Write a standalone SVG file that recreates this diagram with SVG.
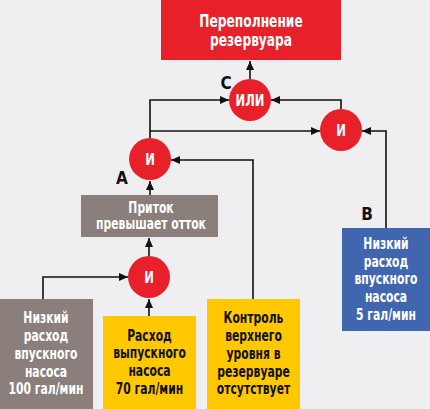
<svg xmlns="http://www.w3.org/2000/svg" width="430" height="409" viewBox="0 0 430 409">
<defs>
<style>
.t{font-family:"Liberation Sans Narrow","DejaVu Sans Condensed","Liberation Sans",sans-serif;font-weight:bold;text-anchor:middle}
.w{fill:#fff}
.k{fill:#111}
.c{stroke:#111;stroke-width:1.6;fill:none;marker-end:url(#ah)}
.gate{fill:#e8202a}
</style>
<marker id="ah" markerWidth="10" markerHeight="10" refX="9" refY="4" orient="auto" markerUnits="userSpaceOnUse">
<path d="M0,0 L9,4 L0,8 Z" fill="#111"/>
</marker>
</defs>
<rect width="430" height="409" fill="#efeff1"/>
<g id="connectors">
<path class="c" d="M250,79 V61"/>
<path class="c" d="M150,138 V100 H229"/>
<path class="c" d="M150,131 H320"/>
<path class="c" d="M341,109 V100 H271"/>
<path class="c" d="M386,228 V131 H362"/>
<path class="c" d="M253,299 V160 H171"/>
<path class="c" d="M150,195 V181"/>
<path class="c" d="M149,256 V238"/>
<path class="c" d="M43,299 V277 H128"/>
<path class="c" d="M149,316 V299"/>
</g>
<g id="overflow">
<rect x="161" y="0" width="180" height="60" fill="#e8202a"/>
<g transform="translate(251 0) scale(0.8 1)">
<text class="t w" font-size="17"><tspan x="0" y="27">Переполнение</tspan><tspan x="0" y="46">резервуара</tspan></text>
</g>
</g>
<g id="or-c">
<circle class="gate" cx="250" cy="100" r="21"/>
<g transform="translate(250 0) scale(0.8 1)"><text class="t w" x="0" y="106" font-size="16">ИЛИ</text></g>
<text class="t k" x="226" y="89" font-size="17">С</text>
</g>
<g id="and-a">
<circle class="gate" cx="150" cy="159" r="21"/>
<g transform="translate(150 0) scale(0.8 1)"><text class="t w" x="0" y="165" font-size="16">И</text></g>
<text class="t k" x="122" y="184" font-size="17">А</text>
</g>
<g id="and-right">
<circle class="gate" cx="341" cy="130" r="21"/>
<g transform="translate(341 0) scale(0.8 1)"><text class="t w" x="0" y="136" font-size="16">И</text></g>
</g>
<g id="and-bottom">
<circle class="gate" cx="149" cy="277" r="21"/>
<g transform="translate(149 0) scale(0.8 1)"><text class="t w" x="0" y="283" font-size="16">И</text></g>
</g>
<g id="inflow">
<rect x="81" y="195" width="137" height="42" fill="#8b7f7b"/>
<g transform="translate(151 0) scale(0.8 1)">
<text class="t w" font-size="15"><tspan x="0" y="213">Приток</tspan><tspan x="0" y="229">превышает отток</tspan></text>
</g>
</g>
<g id="low-inlet-100">
<rect x="0" y="299" width="93" height="110" fill="#8b7f7b"/>
<g transform="translate(46 0) scale(0.8 1)">
<text class="t w" font-size="15"><tspan x="0" y="323">Низкий</tspan><tspan x="0" y="341">расход</tspan><tspan x="0" y="359">впускного</tspan><tspan x="0" y="377">насоса</tspan><tspan x="0" y="394">100 гал/мин</tspan></text>
</g>
</g>
<g id="outlet-70">
<rect x="103" y="316" width="93" height="93" fill="#ffc800"/>
<g transform="translate(149.5 0) scale(0.8 1)">
<text class="t k" font-size="15"><tspan x="0" y="341">Расход</tspan><tspan x="0" y="358">выпускного</tspan><tspan x="0" y="376">насоса</tspan><tspan x="0" y="394">70 гал/мин</tspan></text>
</g>
</g>
<g id="level-control">
<rect x="207" y="299" width="93" height="110" fill="#ffc800"/>
<g transform="translate(253.5 0) scale(0.8 1)">
<text class="t k" font-size="15"><tspan x="0" y="323">Контроль</tspan><tspan x="0" y="341">верхнего</tspan><tspan x="0" y="359">уровня в</tspan><tspan x="0" y="377">резервуаре</tspan><tspan x="0" y="394">отсутствует</tspan></text>
</g>
</g>
<g id="low-inlet-5">
<rect x="342" y="228" width="88" height="103" fill="#4166b0"/>
<g transform="translate(386 0) scale(0.8 1)">
<text class="t w" font-size="15"><tspan x="0" y="249">Низкий</tspan><tspan x="0" y="267">расход</tspan><tspan x="0" y="284">впускного</tspan><tspan x="0" y="302">насоса</tspan><tspan x="0" y="320">5 гал/мин</tspan></text>
</g>
<text class="t k" x="367" y="220" font-size="17">В</text>
</g>
</svg>
